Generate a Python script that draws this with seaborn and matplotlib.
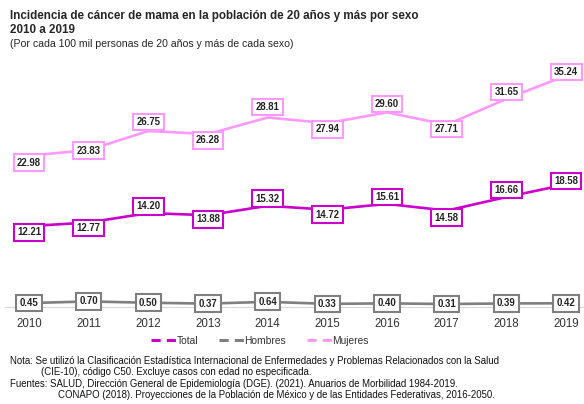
import matplotlib
matplotlib.use("Agg")
import matplotlib.pyplot as plt
import pandas as pd
import seaborn as sns
from matplotlib.lines import Line2D

years = [2010, 2011, 2012, 2013, 2014, 2015, 2016, 2017, 2018, 2019]
total = [12.21, 12.77, 14.20, 13.88, 15.32, 14.72, 15.61, 14.58, 16.66, 18.58]
hombres = [0.45, 0.70, 0.50, 0.37, 0.64, 0.33, 0.40, 0.31, 0.39, 0.42]
mujeres = [22.98, 23.83, 26.75, 26.28, 28.81, 27.94, 29.60, 27.71, 31.65, 35.24]
series_names = ["Total", "Hombres", "Mujeres"]
colors = {"Total": "#CC00CC", "Hombres": "#7F7F7F", "Mujeres": "#FF99FF"}

# vertical label offsets in points (positive = above the point), like the Excel labels
label_offsets = {
    "Total": [-4.5, -4, 5, -3, 5, -3.5, 5, -5, 5, 2.5],
    "Hombres": [0] * 10,
    "Mujeres": [-5, -0.5, 6.5, -4.5, 7.5, -4.5, 6, -3, 5, 2.5],
}

df = pd.DataFrame({"year": years, "Total": total, "Hombres": hombres, "Mujeres": mujeres})
long = df.melt(id_vars="year", var_name="serie", value_name="valor")

sns.set_style("white")
plt.rcParams["font.family"] = ["Liberation Sans", "DejaVu Sans"]

fig = plt.figure(figsize=(5.84, 4.04), dpi=100)
ax = fig.add_axes([5 / 584, 97 / 404, 579 / 584, 247 / 404])

sns.lineplot(data=long, x="year", y="valor", hue="serie", hue_order=series_names,
             palette=colors, linewidth=1.9, legend=False, ax=ax)

for name in series_names:
    for x, v, off in zip(years, df[name], label_offsets[name]):
        ax.annotate(f"{v:.2f}", (x, v), xytext=(0, off), textcoords="offset points",
                    ha="center", va="center", fontsize=6.9, fontweight="bold",
                    color="#222222", zorder=5,
                    bbox=dict(boxstyle="square,pad=0.35", fc="white", ec=colors[name], lw=1.5))

ax.set_xlim(2009.598, 2019.30)
ax.set_ylim(-0.15, 37.6)
ax.set_xticks(years)
ax.set_xticklabels([str(y) for y in years], fontsize=8.3, color="#333333")
ax.set_yticks([])
ax.set_xlabel("")
ax.set_ylabel("")
ax.tick_params(axis="x", length=0, pad=8)
for side in ["top", "right", "left"]:
    ax.spines[side].set_visible(False)
ax.spines["bottom"].set_color("#D9D9D9")
ax.spines["bottom"].set_linewidth(0.8)

handles = [Line2D([0], [0], color=colors[n], lw=2.2, dashes=(3.0, 2.0)) for n in series_names]
fig.legend(handles, series_names, loc="center", bbox_to_anchor=(260 / 584, 1 - 341 / 404),
           ncol=3, frameon=False, fontsize=7.4, handlelength=2.4, handletextpad=0.1,
           columnspacing=2.0, labelcolor="#333333")

fig.text(10 / 584, 1 - 16 / 404, "Incidencia de cáncer de mama en la población de 20 años y más por sexo",
         fontsize=8.4, fontweight="bold", va="center")
fig.text(10 / 584, 1 - 30 / 404, "2010 a 2019", fontsize=8.4, fontweight="bold", va="center")
fig.text(10 / 584, 1 - 44 / 404, "(Por cada 100 mil personas de 20 años y más de cada sexo)",
         fontsize=7.55, va="center")

notes = [
    (10, 361, "Nota: Se utilizó la Clasificación Estadística Internacional de Enfermedades y Problemas Relacionados con la Salud"),
    (41, 372, "(CIE-10), código C50. Excluye casos con edad no especificada."),
    (10, 384, "Fuentes: SALUD, Dirección General de Epidemiología (DGE). (2021). Anuarios de Morbilidad 1984-2019."),
    (58, 395, "CONAPO (2018). Proyecciones de la Población de México y de las Entidades Federativas, 2016-2050."),
]
for x, y, t in notes:
    fig.text(x / 584, 1 - y / 404, t, fontsize=6.9, va="center", color="#111111")

fig.savefig("out.png", dpi=100)
